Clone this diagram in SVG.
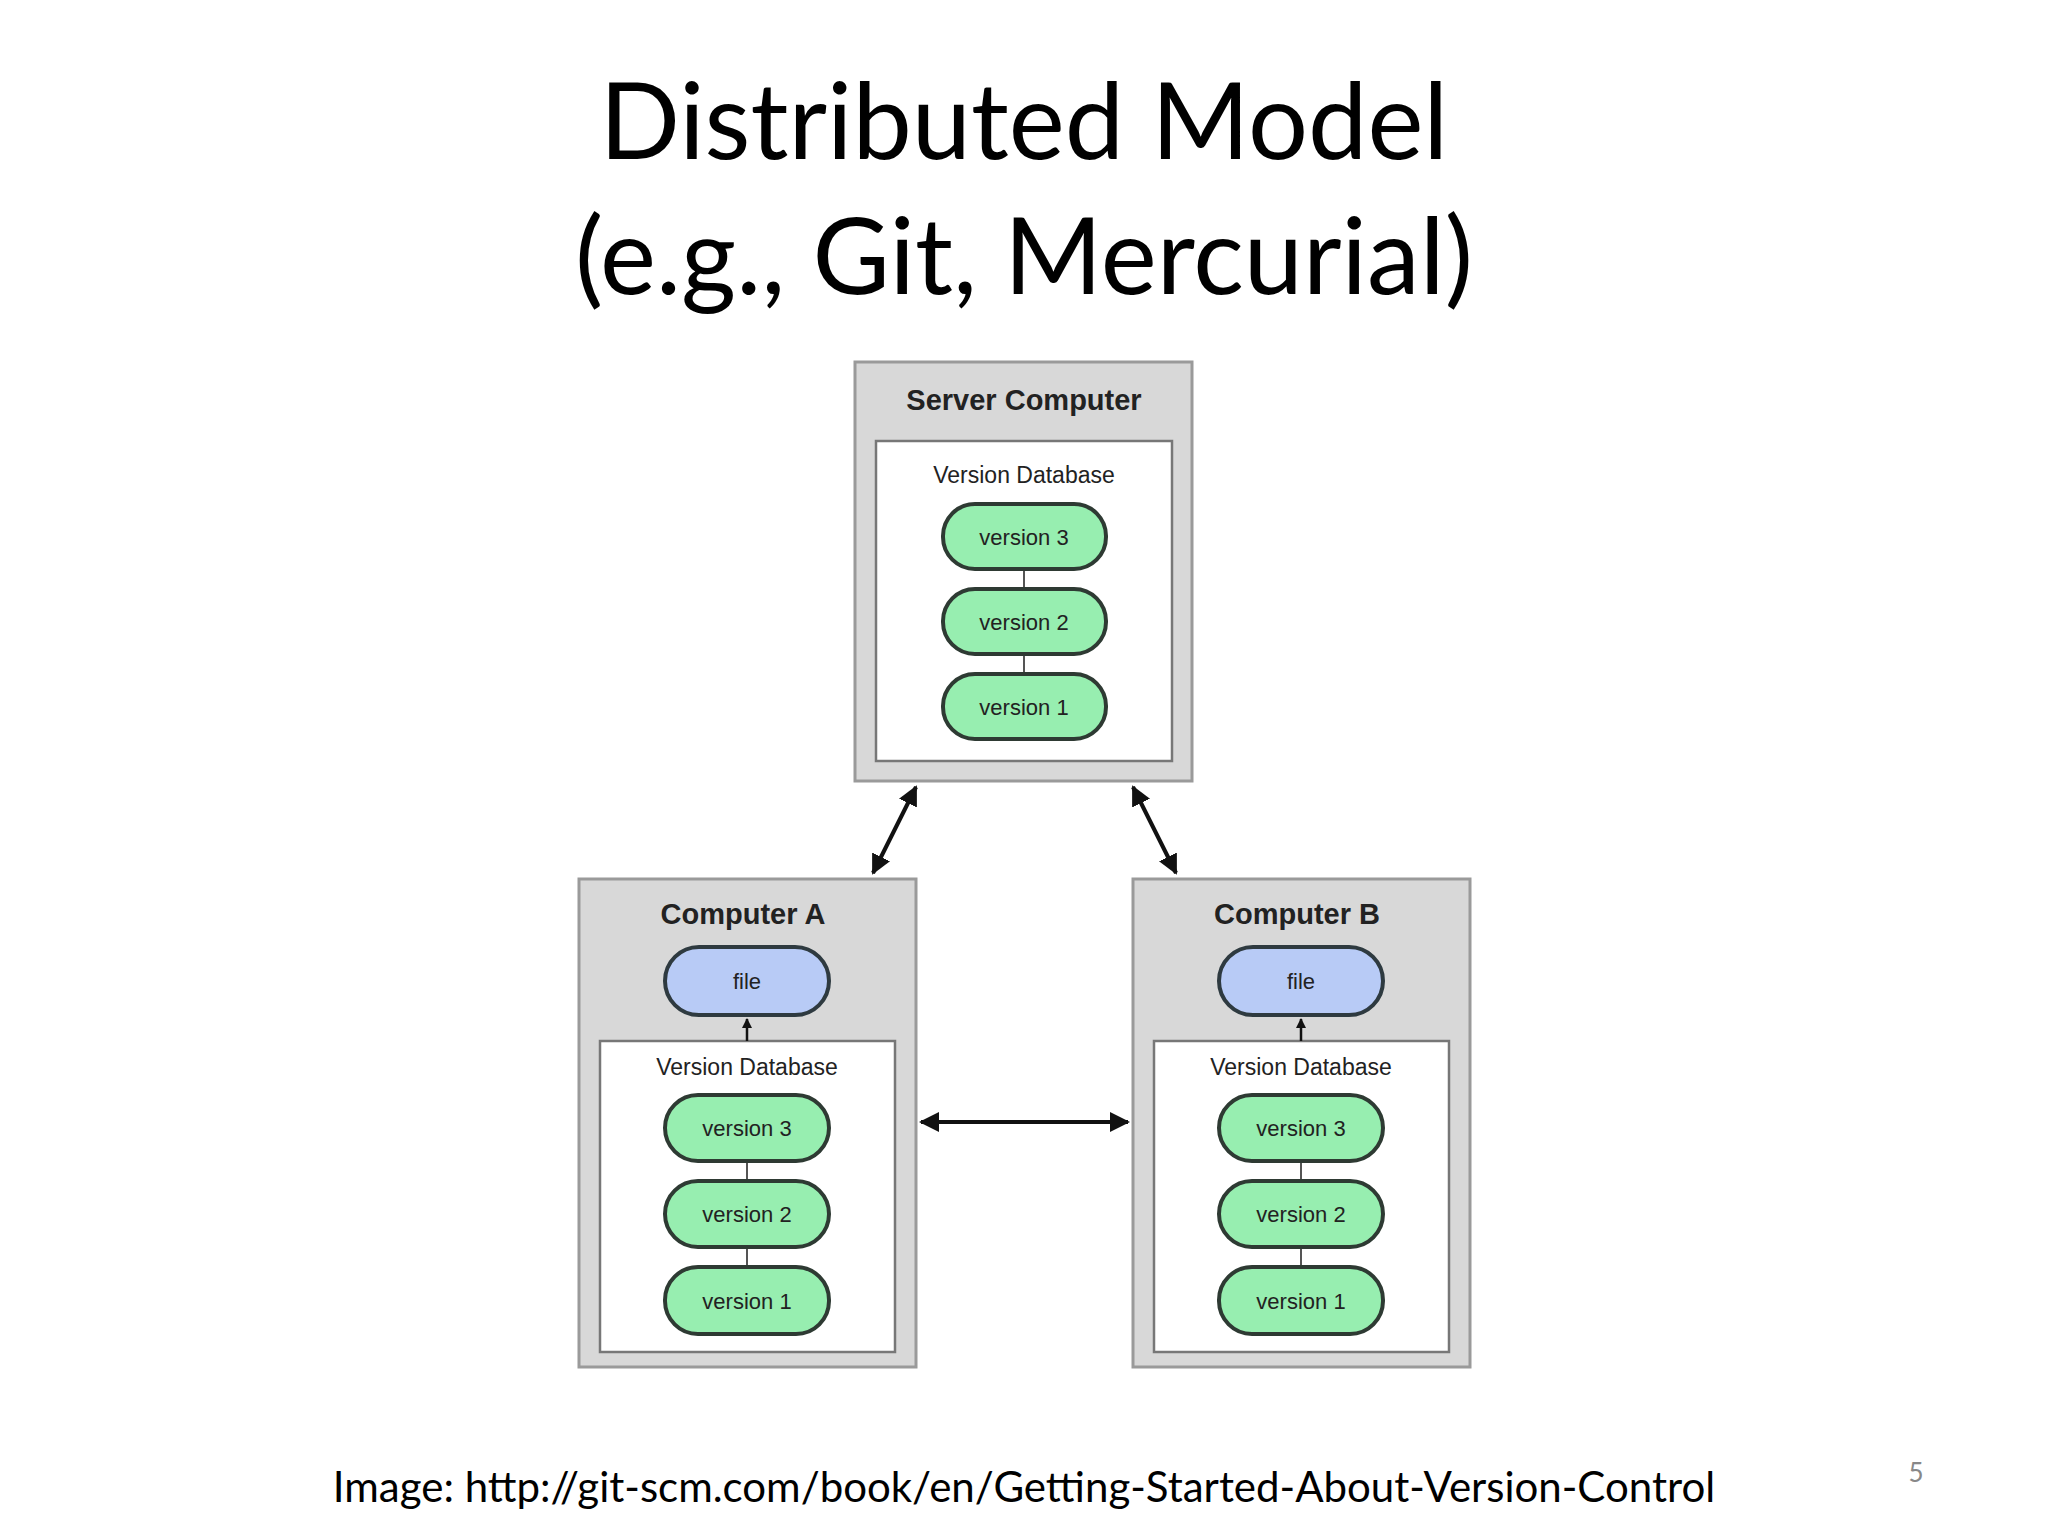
<svg xmlns="http://www.w3.org/2000/svg" width="2048" height="1536" viewBox="0 0 2048 1536">
<defs>
<style>
.title{font-family:Lato,"Open Sans",sans-serif;font-size:106px;fill:#000;text-anchor:middle}
.outer{fill:#d8d8d8;stroke:#9a9a9a;stroke-width:3}
.inner{fill:#fff;stroke:#777;stroke-width:2.5}
.hdr{font-family:"Liberation Sans",Arial,sans-serif;font-weight:bold;font-size:29px;fill:#222;text-anchor:middle}
.db{font-family:"Liberation Sans",Arial,sans-serif;font-size:23px;fill:#222;text-anchor:middle}
.pill{fill:#97eeb0;stroke:#2e3a33;stroke-width:4}
.fpill{fill:#b8cbf6;stroke:#2e3a40;stroke-width:4}
.pt{font-family:"Liberation Sans",Arial,sans-serif;font-size:22px;fill:#222;text-anchor:middle}
.link{stroke:#555;stroke-width:2}
.arr{stroke:#111;stroke-width:4;fill:none}
</style>
<marker id="ah" viewBox="0 0 10 10" refX="9" refY="5" markerWidth="5" markerHeight="5" orient="auto-start-reverse"><path d="M0,0 L10,5 L0,10 z" fill="#111"/></marker>
<marker id="sh" viewBox="0 0 10 10" refX="9" refY="5" markerWidth="4" markerHeight="4" orient="auto"><path d="M0,0 L10,5 L0,10 z" fill="#111"/></marker>
</defs>
<rect width="2048" height="1536" fill="#fff"/>
<text class="title" x="1024" y="159">Distributed Model</text>
<text class="title" x="1024" y="294">(e.g., Git, Mercurial)</text>

<g id="server">
<rect class="outer" x="855" y="362" width="337" height="419"/>
<text class="hdr" x="1024" y="410">Server Computer</text>
<rect class="inner" x="876" y="441" width="296" height="320"/>
<text class="db" x="1024" y="483">Version Database</text>
<line class="link" x1="1024" y1="569" x2="1024" y2="589"/>
<line class="link" x1="1024" y1="654" x2="1024" y2="674"/>
<rect class="pill" x="943" y="504" width="163" height="65" rx="32"/><text class="pt" x="1024" y="545">version 3</text>
<rect class="pill" x="943" y="589" width="163" height="65" rx="32"/><text class="pt" x="1024" y="630">version 2</text>
<rect class="pill" x="943" y="674" width="163" height="65" rx="32"/><text class="pt" x="1024" y="715">version 1</text>
</g>

<g id="computerA">
<rect class="outer" x="579" y="879" width="337" height="488"/>
<text class="hdr" x="743" y="924">Computer A</text>
<rect class="fpill" x="665" y="947" width="164" height="68" rx="34"/><text class="pt" x="747" y="989">file</text>
<rect class="inner" x="600" y="1041" width="295" height="311"/>
<text class="db" x="747" y="1075">Version Database</text>
<line class="link" x1="747" y1="1161" x2="747" y2="1181"/>
<line class="link" x1="747" y1="1247" x2="747" y2="1267"/>
<rect class="pill" x="665" y="1095" width="164" height="66" rx="33"/><text class="pt" x="747" y="1136">version 3</text>
<rect class="pill" x="665" y="1181" width="164" height="66" rx="33"/><text class="pt" x="747" y="1222">version 2</text>
<rect class="pill" x="665" y="1267" width="164" height="67" rx="33"/><text class="pt" x="747" y="1309">version 1</text>
</g>

<g id="computerB">
<rect class="outer" x="1133" y="879" width="337" height="488"/>
<text class="hdr" x="1297" y="924">Computer B</text>
<rect class="fpill" x="1219" y="947" width="164" height="68" rx="34"/><text class="pt" x="1301" y="989">file</text>
<rect class="inner" x="1154" y="1041" width="295" height="311"/>
<text class="db" x="1301" y="1075">Version Database</text>
<line class="link" x1="1301" y1="1161" x2="1301" y2="1181"/>
<line class="link" x1="1301" y1="1247" x2="1301" y2="1267"/>
<rect class="pill" x="1219" y="1095" width="164" height="66" rx="33"/><text class="pt" x="1301" y="1136">version 3</text>
<rect class="pill" x="1219" y="1181" width="164" height="66" rx="33"/><text class="pt" x="1301" y="1222">version 2</text>
<rect class="pill" x="1219" y="1267" width="164" height="67" rx="33"/><text class="pt" x="1301" y="1309">version 1</text>
</g>

<g id="connectors">
<line class="arr" x1="916" y1="787" x2="873" y2="873" marker-start="url(#ah)" marker-end="url(#ah)"/>
<line class="arr" x1="1133" y1="787" x2="1176" y2="873" marker-start="url(#ah)" marker-end="url(#ah)"/>
<line class="arr" x1="921" y1="1122" x2="1128" y2="1122" marker-start="url(#ah)" marker-end="url(#ah)"/>
<line stroke="#111" stroke-width="2.5" x1="747" y1="1041" x2="747" y2="1019" marker-end="url(#sh)"/>
<line stroke="#111" stroke-width="2.5" x1="1301" y1="1041" x2="1301" y2="1019" marker-end="url(#sh)"/>
</g>

<text x="1024" y="1502" text-anchor="middle" font-family="Lato,'Open Sans',sans-serif" font-size="42" fill="#000">Image: http://git-scm.com/book/en/Getting-Started-About-Version-Control</text>
<text x="1916" y="1482" text-anchor="middle" font-family="Lato,'Open Sans',sans-serif" font-size="26" fill="#888">5</text>
</svg>
